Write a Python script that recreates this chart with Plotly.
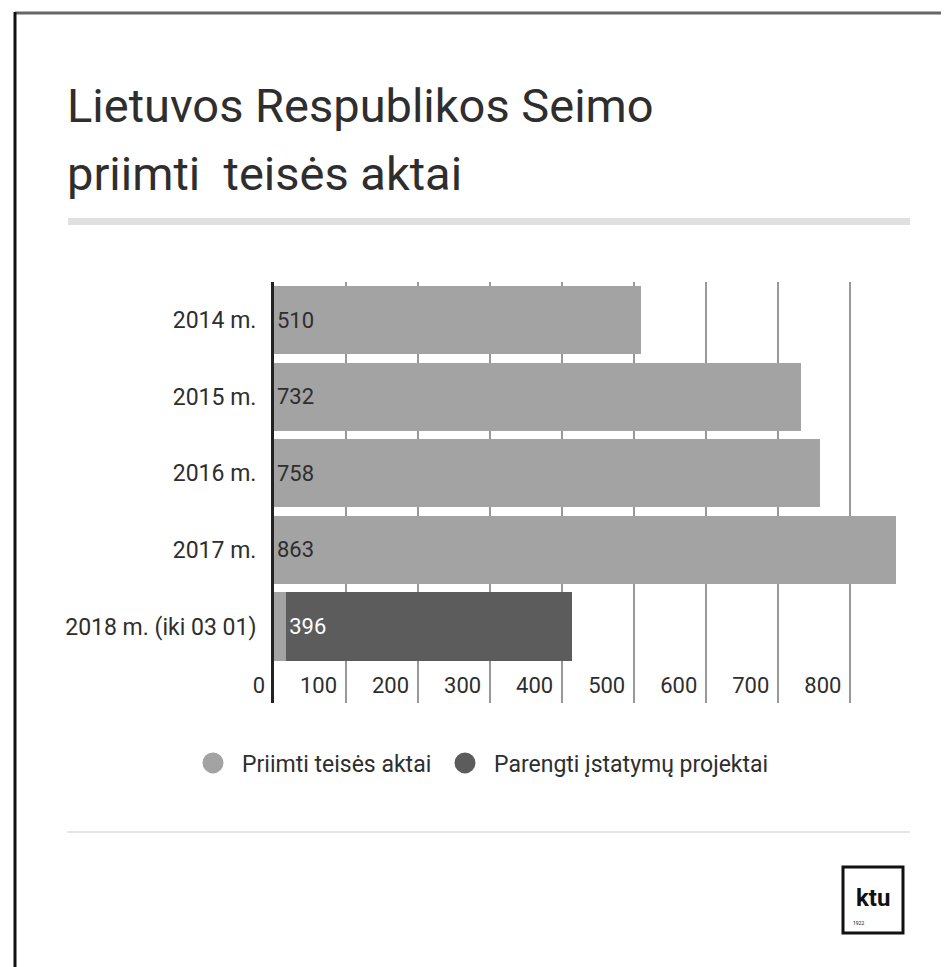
import plotly.graph_objects as go

years = ["2014 m.", "2015 m.", "2016 m.", "2017 m.", "2018 m. (iki 03 01)"]
priimti = [510, 732, 758, 863, 17]
parengti = [None, None, None, None, 396]
x_ticks = [0, 100, 200, 300, 400, 500, 600, 700, 800]
series_names = ["Priimti teisės aktai", "Parengti įstatymų projektai"]

LIGHT = "#a3a3a3"
DARK = "#5c5c5c"
TXT = "#2e2e2e"

OFF = 8  # page body margin
W, H = 949 - OFF, 967 - OFF
# plot area in page pixels
PL, PR, PT, PB = 274, 908, 282, 703


def px(x):
    return (x - PL) / (PR - PL)


def py(y):
    return (PB - y) / (PB - PT)


FS = 22

fig = go.Figure()
fig.add_trace(go.Bar(
    y=years, x=priimti, orientation="h", marker=dict(color=LIGHT, line=dict(width=0)),
    text=[str(v) if v >= 100 else "" for v in priimti], textposition="inside",
    insidetextanchor="start", textfont=dict(size=FS, color=TXT, family="Roboto"),
    showlegend=False, hoverinfo="skip",
))
fig.add_trace(go.Bar(
    y=years, x=parengti, orientation="h", marker=dict(color=DARK, line=dict(width=0)),
    text=[str(v) if v else "" for v in parengti], textposition="inside",
    insidetextanchor="start", textfont=dict(size=FS, color="white", family="Roboto"),
    showlegend=False, hoverinfo="skip",
))
for name, col, lg in [(series_names[0], LIGHT, "legend"), (series_names[1], DARK, "legend2")]:
    fig.add_trace(go.Scatter(
        x=[None], y=[None], mode="markers", name=name, legend=lg,
        marker=dict(symbol="circle", size=16, color=col, line=dict(color=col, width=5)),
    ))

shapes = [
    dict(type="rect", xref="paper", yref="paper", x0=px(68), x1=px(910), y0=py(218), y1=py(225),
         fillcolor="#e0e0e0", line=dict(width=0), layer="below"),
    dict(type="line", xref="paper", yref="paper", x0=px(67), x1=px(910), y0=py(832), y1=py(832),
         line=dict(color="#dddddd", width=1.5)),
    dict(type="line", xref="paper", yref="paper", x0=px(15), x1=px(960), y0=py(13), y1=py(13),
         line=dict(color="#666666", width=3)),
    dict(type="line", xref="paper", yref="paper", x0=px(15), x1=px(15), y0=py(12), y1=py(980),
         line=dict(color="#111111", width=3)),
    dict(type="rect", xref="paper", yref="paper", x0=px(843), x1=px(903), y0=py(867), y1=py(933),
         line=dict(color="#111111", width=3), fillcolor="white"),
]

annotations = [
    dict(text="Lietuvos Respublikos Seimo", xref="paper", yref="paper", x=px(65), y=py(106),
         xanchor="left", yanchor="middle", showarrow=False,
         font=dict(size=47, color=TXT, family="Roboto")),
    dict(text="priimti  teisės aktai", xref="paper", yref="paper", x=px(65), y=py(173),
         xanchor="left", yanchor="middle", showarrow=False,
         font=dict(size=47, color=TXT, family="Roboto")),
    dict(text="<b>ktu</b>", xref="paper", yref="paper", x=px(873), y=py(898),
         xanchor="center", yanchor="middle", showarrow=False,
         font=dict(size=24, color="#111111", family="Roboto")),
    dict(text="1922", xref="paper", yref="paper", x=px(851), y=py(923),
         xanchor="left", yanchor="middle", showarrow=False,
         font=dict(size=5, color="#111111", family="Roboto")),
]

legend_common = dict(orientation="h", xanchor="left", y=py(763), yanchor="middle",
                     itemwidth=48, font=dict(size=23, color=TXT, family="Roboto"),
                     itemsizing="trace", bgcolor="rgba(0,0,0,0)")

fig.update_layout(
    width=W, height=H,
    margin=dict(l=PL - OFF, r=949 - PR, t=PT - OFF, b=967 - PB, pad=0),
    paper_bgcolor="white", plot_bgcolor="white",
    barmode="stack", bargap=0.11,
    font=dict(family="Roboto", color=TXT),
    shapes=shapes, annotations=annotations,
    legend=dict(x=px(184), **legend_common),
    legend2=dict(x=px(436), **legend_common),
    xaxis=dict(range=[0, 880], tickvals=x_ticks, showgrid=True, gridcolor="#999999", gridwidth=1.5,
               zeroline=False, showline=False, ticks="",
               ticklabelposition="inside left", ticklabeloverflow="allow", ticklabelshift=-9,
               tickfont=dict(size=FS, color=TXT, family="Roboto"),
               fixedrange=True),
    yaxis=dict(type="category", categoryorder="array", categoryarray=years, range=[5.0, -0.5],
               showgrid=False, zeroline=False, showline=True, linecolor="#222222", linewidth=3,
               ticks="", ticklabelstandoff=10,
               tickfont=dict(size=23, color=TXT, family="Roboto")),
)

fig.write_html("out.html")
